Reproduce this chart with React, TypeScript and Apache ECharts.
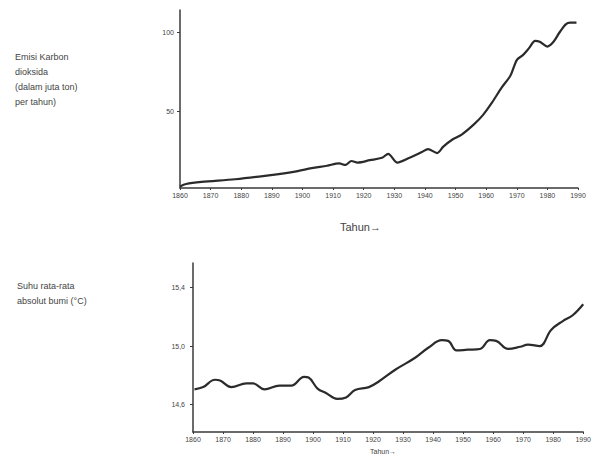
import React, { useEffect, useRef } from "react";
import * as echarts from "echarts";

const yearTicks = [1860, 1870, 1880, 1890, 1900, 1910, 1920, 1930, 1940, 1950, 1960, 1970, 1980, 1990];

const co2Years = [1860, 1862, 1867, 1878, 1889, 1898, 1903, 1908, 1912, 1914, 1916, 1918, 1922, 1926, 1928, 1931, 1935, 1939, 1941, 1944, 1946, 1949, 1952, 1956, 1959, 1962, 1965, 1968, 1970, 1972, 1974, 1976, 1977.5, 1980, 1982, 1984, 1986, 1987.5, 1989.5];
const co2Values = [3, 4.5, 5.8, 7.5, 10, 12.5, 14.5, 16, 17.5, 16.5, 19, 18, 19.5, 21, 23.5, 18, 21, 24.6, 26.5, 24, 28, 32.5, 35.6, 42, 48, 56, 65, 73, 82.5, 85.6, 90, 94.6, 94, 91, 94, 100, 105, 106, 106];

const tempYears = [1860.5, 1863.4, 1867.3, 1869, 1872.8, 1877.8, 1880, 1883.8, 1888.8, 1892.7, 1897, 1898.5, 1901.5, 1904.3, 1908, 1911, 1914, 1918.6, 1922, 1927.5, 1934, 1938.5, 1942.9, 1945, 1947.8, 1951.5, 1955.6, 1958.9, 1961, 1965, 1969, 1971.6, 1975.5, 1979.3, 1983.2, 1986.5, 1990];
const tempValues = [14.705, 14.72, 14.77, 14.765, 14.72, 14.745, 14.745, 14.705, 14.73, 14.73, 14.79, 14.785, 14.71, 14.68, 14.64, 14.65, 14.7, 14.72, 14.76, 14.84, 14.92, 14.99, 15.04, 15.035, 14.97, 14.975, 14.98, 15.04, 15.035, 14.98, 14.995, 15.01, 15.0, 15.11, 15.17, 15.21, 15.285];

const co2Ticks = [50, 100];
const tempTicks = [14.6, 15.0, 15.4];

const co2Title = "Emisi Karbon\ndioksida\n(dalam juta ton)\nper tahun)";
const tempTitle = "Suhu rata-rata\nabsolut bumi (°C)";
const xTitle = "Tahun→";

const FONT = "Liberation Sans, Arial, sans-serif";
const AXIS_COLOR = "#3a3a3a";
const TEXT_COLOR = "#444444";

export default function App() {
  const ref = useRef<HTMLDivElement>(null);
  useEffect(() => {
    if (!ref.current) return;
    const chart = echarts.init(ref.current, undefined, { renderer: "svg" });
    const xAxisCommon = (gridIndex: number) => ({
      type: "value" as const,
      gridIndex,
      min: 1860,
      max: 1990,
      interval: 10,
      splitLine: { show: false },
      axisLine: { show: true, lineStyle: { color: AXIS_COLOR, width: 1.5 } },
      axisTick: { show: true, length: 2, lineStyle: { color: AXIS_COLOR } },
      axisLabel: {
        color: TEXT_COLOR,
        fontSize: 7,
        fontFamily: FONT,
        margin: 4,
        customValues: yearTicks,
        showMinLabel: true,
        showMaxLabel: true,
        formatter: (v: number) => String(v),
      },
    });
    chart.setOption({
      animation: false,
      backgroundColor: "#ffffff",
      grid: [
        { left: 180, right: 16, top: 10, bottom: 274, containLabel: false },
        { left: 193, right: 8, top: 263, bottom: 30, containLabel: false },
      ],
      xAxis: [xAxisCommon(0), xAxisCommon(1)],
      yAxis: [
        {
          type: "value",
          gridIndex: 0,
          min: 2,
          max: 114,
          splitLine: { show: false },
          axisLine: { show: true, lineStyle: { color: AXIS_COLOR, width: 1.5 } },
          axisTick: { show: true, length: 3, customValues: co2Ticks, lineStyle: { color: AXIS_COLOR } },
          axisLabel: { color: TEXT_COLOR, fontSize: 7, fontFamily: FONT, margin: 6, customValues: co2Ticks },
        },
        {
          type: "value",
          gridIndex: 1,
          min: 14.414,
          max: 15.566,
          splitLine: { show: false },
          axisLine: { show: true, lineStyle: { color: AXIS_COLOR, width: 1.5 } },
          axisTick: { show: true, length: 3, customValues: tempTicks, lineStyle: { color: AXIS_COLOR } },
          axisLabel: {
            color: TEXT_COLOR,
            fontSize: 7,
            fontFamily: FONT,
            margin: 8,
            customValues: tempTicks,
            formatter: (v: number) => v.toFixed(1).replace(".", ","),
          },
        },
      ],
      series: [
        {
          type: "line",
          xAxisIndex: 0,
          yAxisIndex: 0,
          data: co2Years.map((y, i) => [y, co2Values[i]]),
          showSymbol: false,
          smooth: 0.3,
          lineStyle: { color: "#2b2b2b", width: 2.2 },
        },
        {
          type: "line",
          xAxisIndex: 1,
          yAxisIndex: 1,
          data: tempYears.map((y, i) => [y, tempValues[i]]),
          showSymbol: false,
          smooth: 0.4,
          lineStyle: { color: "#2b2b2b", width: 2.2 },
        },
      ],
      graphic: [
        {
          type: "text",
          left: 15,
          top: 49,
          style: { text: co2Title, fill: TEXT_COLOR, fontSize: 9, lineHeight: 15, fontFamily: FONT },
        },
        {
          type: "text",
          left: 17,
          top: 278,
          style: { text: tempTitle, fill: TEXT_COLOR, fontSize: 9, lineHeight: 15, fontFamily: FONT },
        },
        {
          type: "text",
          left: 340,
          top: 221,
          style: { text: xTitle, fill: TEXT_COLOR, fontSize: 11, fontFamily: FONT },
        },
        {
          type: "text",
          left: 370,
          top: 448,
          style: { text: xTitle, fill: TEXT_COLOR, fontSize: 7, fontFamily: FONT },
        },
      ],
    });
    return () => chart.dispose();
  }, []);
  return <div ref={ref} style={{ width: 594, height: 462, position: "absolute", left: 0, top: 0 }} />;
}
